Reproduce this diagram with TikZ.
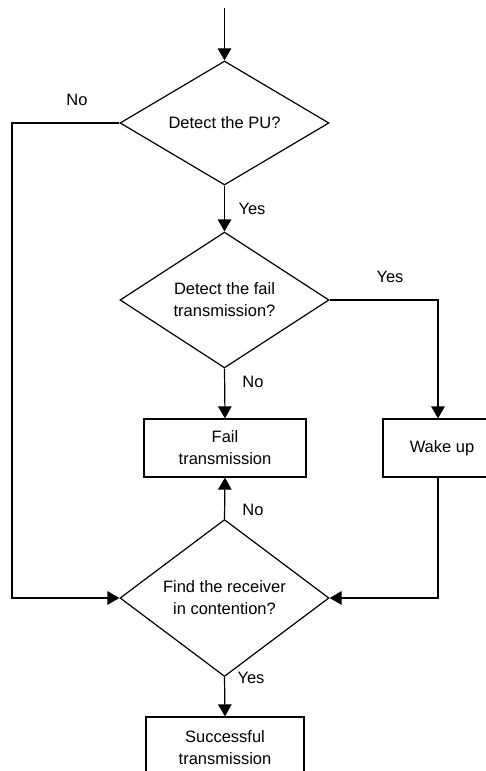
\documentclass[tikz,border=0pt]{standalone}
\usepackage{fontspec}
\setmainfont{Liberation Sans}
\usetikzlibrary{shapes.geometric,arrows.meta}
\begin{document}
\begin{tikzpicture}[x=1pt,y=-1pt,line width=1.2pt,
  txt/.style={font=\fontsize{16.5}{22}\selectfont},
  dec/.style={diamond,draw,inner sep=0pt,minimum width=209pt,minimum height=118pt,align=center,txt},
  box/.style={draw,rectangle,inner sep=0pt,align=center,txt},
  lbl/.style={txt,inner sep=0pt},
  arr/.style={-{Triangle[length=12pt,width=13.5pt]}}]
\clip (0,0) rectangle (486,771);
\node[dec] (d1) at (224.5,123) {Detect the PU?};
\node[dec] (d2) at (224.5,300) {Detect the fail\\transmission?};
\node[dec] (d3) at (224.5,598) {Find the receiver\\in contention?};
\node[box,minimum width=162pt,minimum height=58pt] (fail) at (225,448) {Fail\\transmission};
\node[box,minimum width=110pt,minimum height=58pt] (wake) at (438,448) {\hspace*{8pt}Wake up};
\node[box,minimum width=158pt,minimum height=62pt] (succ) at (225,748) {Successful\\transmission};
\coordinate (start) at (224.5,8);
\coordinate (lc) at (12,598);
\draw[arr] (start) -- (d1.north);
\draw[arr] (d1.west) -| (lc) -- (d3.west);
\draw[arr] (d1.south) -- (d2.north);
\draw[arr] (d2.east) -| (wake.north);
\draw[arr] (d2.south) -- (fail.north);
\draw[arr] (d3.north) -- (fail.south);
\draw[arr] (wake.south) |- (d3.east);
\draw[arr] (d3.south) -- (succ.north);
\node[lbl] (n1) at (77,100) {No};
\node[lbl] (y1) at (252,209) {Yes};
\node[lbl] (y2) at (390,277) {Yes};
\node[lbl] (n2) at (253,382) {No};
\node[lbl] (n3) at (253,510) {No};
\node[lbl] (y3) at (251,678) {Yes};
\end{tikzpicture}
\end{document}
